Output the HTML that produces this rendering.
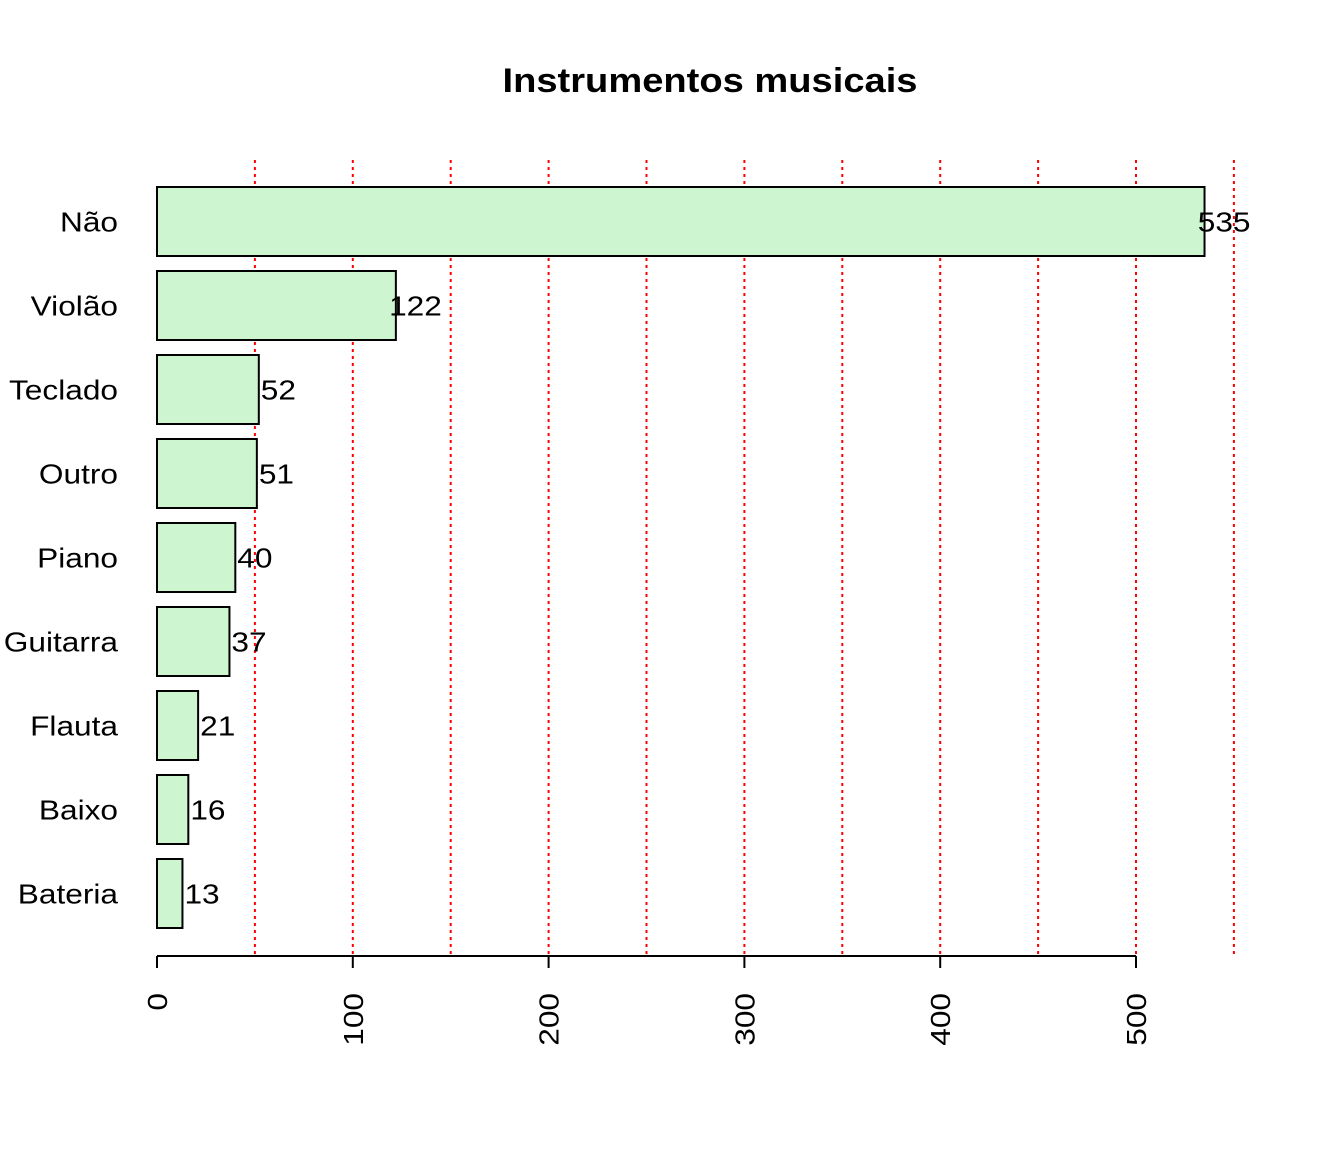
<!DOCTYPE html>
<html><head><meta charset="utf-8"><style>
html,body{margin:0;padding:0;background:#fff;}
svg{display:block;font-family:"Liberation Sans",Arial,sans-serif;}
</style></head><body>
<svg id="chart" width="1344" height="1152" viewBox="0 0 1344 1152" xmlns="http://www.w3.org/2000/svg">
<text x="710" y="92" text-anchor="middle" font-size="34" font-weight="bold" textLength="415" lengthAdjust="spacingAndGlyphs">Instrumentos musicais</text>
<g id="grid"></g><g id="bars"></g><g id="axis"></g>
</svg>
<script>
const categories = ["Não","Violão","Teclado","Outro","Piano","Guitarra","Flauta","Baixo","Bateria"];
const values = [535,122,52,51,40,37,21,16,13];
const xTicks = [0,100,200,300,400,500];
const gridValues = [50,100,150,200,250,300,350,400,450,500,550];

const NS="http://www.w3.org/2000/svg";
const x0=157, pxPerUnit=979/500;
const xs=v=>x0+v*pxPerUnit;
const yTop=187, step=84, barH=69;
const ys=i=>yTop+i*step;
function mk(tag,attrs,parent){const e=document.createElementNS(NS,tag);for(const k in attrs)e.setAttribute(k,attrs[k]);parent.appendChild(e);return e;}
const grid=document.getElementById('grid'), bars=document.getElementById('bars'), axis=document.getElementById('axis');
const FS=28, SX=1.13;

gridValues.forEach(v=>{
  const l=mk('line',{x1:xs(v),x2:xs(v),y1:160,y2:956,stroke:'#ff0000','stroke-width':2,'stroke-dasharray':'3,4'},grid);
  
  
});

categories.forEach((c,i)=>{
  const y=ys(i);
  const r=mk('rect',{x:xs(0),y:y,width:xs(values[i])-xs(0),height:barH,fill:'#cdf5cf',stroke:'#000','stroke-width':2},bars);
  
  
  const t=mk('text',{x:0,y:0,'text-anchor':'end','font-size':FS,transform:`translate(118,${y+barH/2+10}) scale(${SX},1)`},bars);
  t.textContent=c;
  
  
  const v=mk('text',{x:0,y:0,'text-anchor':'middle','font-size':FS,transform:`translate(${xs(values[i]+10)},${y+barH/2+10}) scale(${SX},1)`},bars);
  v.textContent=values[i];
  
  
});

const ax=mk('line',{x1:xs(xTicks[0]),x2:xs(xTicks[xTicks.length-1]),y1:956,y2:956,stroke:'#000','stroke-width':2},axis);


xTicks.forEach(v=>{
  const t=mk('line',{x1:xs(v),x2:xs(v),y1:956,y2:968,stroke:'#000','stroke-width':2},axis);
  
  
  const lb=mk('text',{x:0,y:0,'text-anchor':'end','font-size':FS,transform:`translate(${xs(v)+10},993) rotate(-90) scale(${SX},1)`},axis);
  lb.textContent=v;
  
  
});
</script>
</body></html>
